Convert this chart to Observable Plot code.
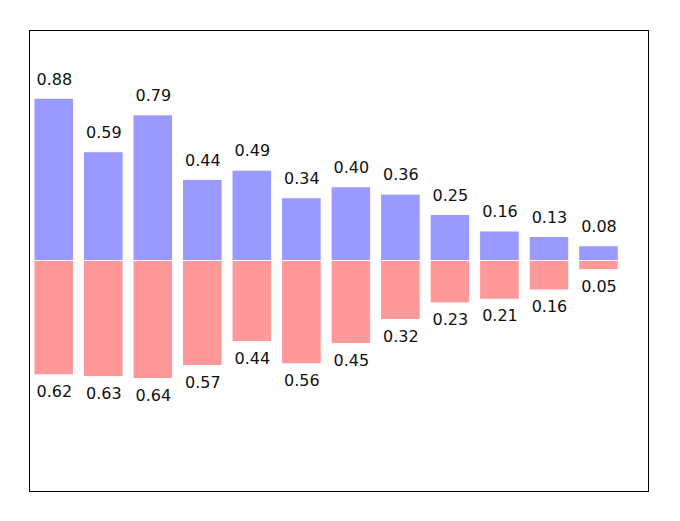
<!DOCTYPE html>
<html>
<head>
<meta charset="utf-8">
<script src="https://cdn.jsdelivr.net/npm/d3@7"></script>
<script src="https://cdn.jsdelivr.net/npm/@observablehq/plot@0.6"></script>
<style>
  html, body { margin: 0; padding: 0; background: #fff; }
</style>
</head>
<body>
<div id="chart"></div>
<script>
const positions = [0, 1, 2, 3, 4, 5, 6, 7, 8, 9, 10, 11];
const upperValues = [0.88, 0.59, 0.79, 0.44, 0.49, 0.34, 0.40, 0.36, 0.25, 0.16, 0.13, 0.08];
const lowerValues = [0.62, 0.63, 0.64, 0.57, 0.44, 0.56, 0.45, 0.32, 0.23, 0.21, 0.16, 0.05];

const barWidth = 0.8;
const upper = positions.map((p, i) => ({x: p, v: upperValues[i]}));
const lower = positions.map((p, i) => ({x: p, v: -lowerValues[i]}));

const chart = Plot.plot({
  width: 680,
  height: 521,
  marginLeft: 29,
  marginRight: 32,
  marginTop: 30,
  marginBottom: 30,
  style: {fontFamily: "DejaVu Sans", fontSize: "16px", background: "#fff"},
  x: {domain: [-0.5, 12], axis: null},
  y: {domain: [-1.25, 1.25], axis: null},
  marks: [
    Plot.rect(upper, {x1: d => d.x - barWidth / 2, x2: d => d.x + barWidth / 2, y1: 0, y2: "v", fill: "#9999ff", stroke: "white", strokeWidth: 1}),
    Plot.rect(lower, {x1: d => d.x - barWidth / 2, x2: d => d.x + barWidth / 2, y1: 0, y2: "v", fill: "#ff9999", stroke: "white", strokeWidth: 1}),
    Plot.text(upper, {x: "x", y: d => d.v + 0.05, text: d => d.v.toFixed(2), lineAnchor: "bottom", dy: -5, fill: "#111", fontSize: 16}),
    Plot.text(lower, {x: "x", y: d => d.v - 0.05, text: d => (-d.v).toFixed(2), lineAnchor: "top", dy: 1, fill: "#111", fontSize: 16}),
    Plot.frame({stroke: "black", strokeWidth: 1})
  ]
});
document.getElementById("chart").appendChild(chart);
</script>
</body>
</html>
